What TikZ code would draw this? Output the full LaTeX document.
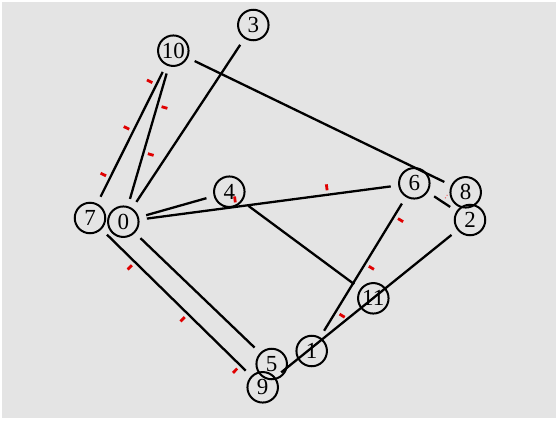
\documentclass[tikz,border=0pt]{standalone}
\usepackage{fontspec}
\setmainfont{Liberation Serif}
\usetikzlibrary{calc}
\definecolor{bg}{HTML}{E4E4E4}
\definecolor{tickred}{HTML}{E00000}
\newcommand\edgetick[5][tickmark]{%
  \coordinate (tk) at ($(#2.center)!#4!(#3.center)$);
  \draw[#1] ($(tk)!4.5pt!#5:(#3.center)$) -- ($(tk)!10.5pt!#5:(#3.center)$);
}
\begin{document}
\begin{tikzpicture}[x=1pt,y=-1pt,
  vert/.style={circle,draw,line width=2pt,minimum size=30.5pt,inner sep=0pt,
    font=\fontsize{23}{23}\selectfont},
  edge/.style={line width=2.3pt, shorten >=7.5pt, shorten <=7.5pt},
  tickmark/.style={draw=tickred,line width=2.8pt},
  faintmark/.style={draw=tickred!60,line width=1pt,dotted}]
\fill[white] (0,0) rectangle (558,421);
\fill[bg] (2,2) rectangle (556,418);
\useasboundingbox (0,0) rectangle (558,421);

\node[vert] (n10) at (173.3,50.7) {10};
\node[vert] (n3) at (253.3,25) {3};
\node[vert] (n7) at (90,218) {7};
\node[vert] (n0) at (123.3,221.7) {0};
\node[vert] (n4) at (229.3,191.7) {4};
\node[vert] (n6) at (414.3,183.3) {6};
\node[vert] (n8) at (465.7,192.3) {8};
\node[vert] (n2) at (470,220) {2};
\node[vert] (n11) at (373.3,298.3) {11};
\node[vert] (n1) at (311.7,351) {1};
\node[vert] (n5) at (271.7,364) {5};
\node[vert] (n9) at (262.7,387.3) {9};

\draw[edge] (n10) -- (n7);
\draw[edge] (n10) -- (n0);
\draw[edge] (n3) -- (n0);
\draw[edge] (n10) -- (n8);
\draw[edge] (n0) -- (n4);
\draw[edge] (n0) -- (n6);
\draw[edge] (n4) -- (n11);
\draw[edge] (n6) -- (n1);
\draw[edge] (n6) -- (n2);
\draw[edge] (n2) -- (n9);
\draw[edge] (n7) -- (n9);
\draw[edge] (n0) -- (n5);

\edgetick{n10}{n7}{38pt}{-90}
\edgetick{n10}{n7}{90pt}{-90}
\edgetick{n10}{n7}{142pt}{-90}
\edgetick{n10}{n0}{57pt}{90}
\edgetick{n10}{n0}{106pt}{90}
\edgetick{n7}{n9}{63pt}{-90}
\edgetick{n7}{n9}{137pt}{-90}
\edgetick{n7}{n9}{210.5pt}{-90}
\edgetick{n0}{n6}{113.6pt}{90}
\edgetick{n0}{n6}{206.2pt}{90}
\edgetick{n6}{n1}{38.6pt}{90}
\edgetick{n6}{n1}{94.5pt}{90}
\edgetick{n6}{n1}{150.6pt}{90}
\edgetick[faintmark]{n6}{n2}{34pt}{90}
\end{tikzpicture}
\end{document}
